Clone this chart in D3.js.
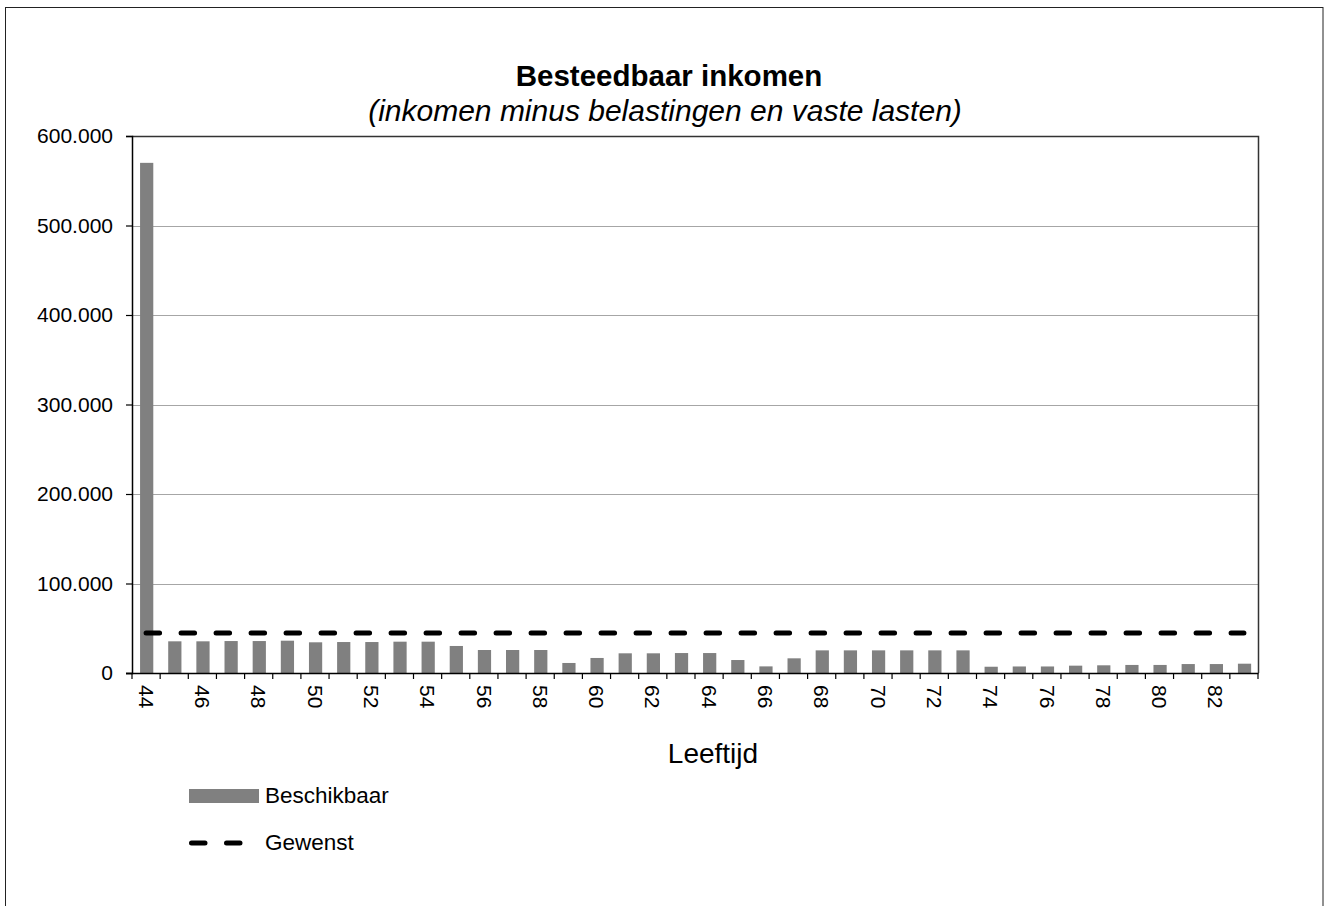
<!DOCTYPE html>
<html>
<head>
<meta charset="utf-8">
<script src="https://cdn.jsdelivr.net/npm/d3@7"></script>
<style>
  html, body { margin: 0; padding: 0; background: #fff; }
  svg { display: block; font-family: Arial, "Liberation Sans", sans-serif; }
</style>
</head>
<body>
<svg id="chart" width="1324" height="906"></svg>
<script>
// ---- data ----
const ages = d3.range(44, 84).map(String);
const beschikbaar = [
  570000, 35400, 35400, 35700, 35700, 36100, 34300, 34600, 34600, 35000,
  35000, 30200, 25700, 25700, 25700, 11200, 16800, 22000, 22000, 22300,
  22300, 14500, 7400, 16400, 25300, 25300, 25300, 25300, 25300, 25300,
  7000, 7300, 7300, 8200, 8600, 9000, 9000, 10000, 10000, 10400
];
const gewenst = ages.map(() => 44700);
const yTicks = [0, 100000, 200000, 300000, 400000, 500000, 600000];
const xTickLabels = ages.filter((a, i) => i % 2 === 0);
const titleText = "Besteedbaar inkomen";
const subtitleText = "(inkomen minus belastingen en vaste lasten)";
const xAxisTitle = "Leeftijd";
const seriesNames = ["Beschikbaar", "Gewenst"];

// ---- layout ----
const svg = d3.select("#chart");
const plot = { left: 132, right: 1258, top: 136, bottom: 673 };

// outer frame
svg.append("rect")
  .attr("x", 5.5).attr("y", 7.5)
  .attr("width", 1317.5).attr("height", 920)
  .attr("fill", "none").attr("stroke", "#222").attr("stroke-width", 1);

const x = d3.scaleBand().domain(ages).range([plot.left, plot.right]).padding(0);
const y = d3.scaleLinear().domain([0, 600000]).range([plot.bottom, plot.top]);

// gridlines
svg.append("g").selectAll("line").data(yTicks.filter(d => d > 0 && d < 600000)).join("line")
  .attr("x1", plot.left).attr("x2", plot.right)
  .attr("y1", d => Math.round(y(d)) + 0.5).attr("y2", d => Math.round(y(d)) + 0.5)
  .attr("stroke", "#a6a6a6").attr("stroke-width", 1);

// plot frame top/right
svg.append("path")
  .attr("d", `M${plot.left},${plot.top + 0.5}H${plot.right + 0.5}V${plot.bottom}`)
  .attr("fill", "none").attr("stroke", "#333").attr("stroke-width", 1.5);

// bars
const bw = x.bandwidth() * 0.47;
svg.append("g").selectAll("rect").data(beschikbaar).join("rect")
  .attr("x", (d, i) => x(ages[i]) + (x.bandwidth() - bw) / 2 + 0.6)
  .attr("width", bw)
  .attr("y", d => y(d))
  .attr("height", d => y(0) - y(d))
  .attr("fill", "#808080");

// dashed line
const line = d3.line()
  .x((d, i) => x(ages[i]) + x.bandwidth() / 2)
  .y(d => y(d));
svg.append("path").datum(gewenst)
  .attr("d", line)
  .attr("fill", "none").attr("stroke", "#000").attr("stroke-width", 5)
  .attr("stroke-linecap", "round")
  .attr("stroke-dasharray", "13.5 21.5");

// y axis
const yAxis = d3.axisLeft(y).tickValues(yTicks).tickSize(6).tickPadding(13)
  .tickFormat(d => d === 0 ? "0" : d3.format(",")(d).replace(/,/g, "."));
const gy = svg.append("g").attr("transform", `translate(${plot.left},0)`).call(yAxis);
gy.select(".domain").attr("stroke", "#000").attr("stroke-width", 1.5);
gy.selectAll(".tick line").attr("stroke", "#000").attr("stroke-width", 1.2);
gy.selectAll("text").attr("font-size", 21).attr("fill", "#000")
  .attr("font-family", "Arial, 'Liberation Sans', sans-serif");

// x axis: ticks at band boundaries
const gx = svg.append("g");
gx.append("line")
  .attr("x1", plot.left - 6).attr("x2", plot.right + 0.5)
  .attr("y1", plot.bottom + 0.5).attr("y2", plot.bottom + 0.5)
  .attr("stroke", "#000").attr("stroke-width", 1.5);
const boundaries = ages.map(a => x(a)).concat([plot.right]);
gx.selectAll("line.tk").data(boundaries).join("line").attr("class", "tk")
  .attr("x1", d => d).attr("x2", d => d)
  .attr("y1", plot.bottom).attr("y2", plot.bottom + 6)
  .attr("stroke", "#000").attr("stroke-width", 1.2);
gx.selectAll("text").data(xTickLabels).join("text")
  .attr("transform", d => `translate(${x(d) + x.bandwidth() / 2},${plot.bottom + 12}) rotate(90)`)
  .attr("dy", "0.35em")
  .attr("text-anchor", "start")
  .attr("font-size", 21)
  .attr("fill", "#000")
  .text(d => d);

// axis title
svg.append("text").attr("x", 713).attr("y", 763)
  .attr("text-anchor", "middle").attr("font-size", 28).text(xAxisTitle);

// titles
svg.append("text").attr("x", 669).attr("y", 86)
  .attr("text-anchor", "middle").attr("font-size", 29.5).attr("font-weight", "bold")
  .text(titleText);
svg.append("text").attr("x", 665).attr("y", 121)
  .attr("text-anchor", "middle").attr("font-size", 30).attr("font-style", "italic")
  .text(subtitleText);

// legend
const lg = svg.append("g");
lg.append("rect").attr("x", 189).attr("y", 789).attr("width", 70).attr("height", 14)
  .attr("fill", "#808080");
lg.append("text").attr("x", 265).attr("y", 803).attr("font-size", 22.5).text(seriesNames[0]);
lg.append("line").attr("x1", 191.5).attr("x2", 241).attr("y1", 843).attr("y2", 843)
  .attr("stroke", "#000").attr("stroke-width", 5).attr("stroke-linecap", "round")
  .attr("stroke-dasharray", "13.5 21.5");
lg.append("text").attr("x", 265).attr("y", 850).attr("font-size", 22.5).text(seriesNames[1]);
</script>
</body>
</html>
